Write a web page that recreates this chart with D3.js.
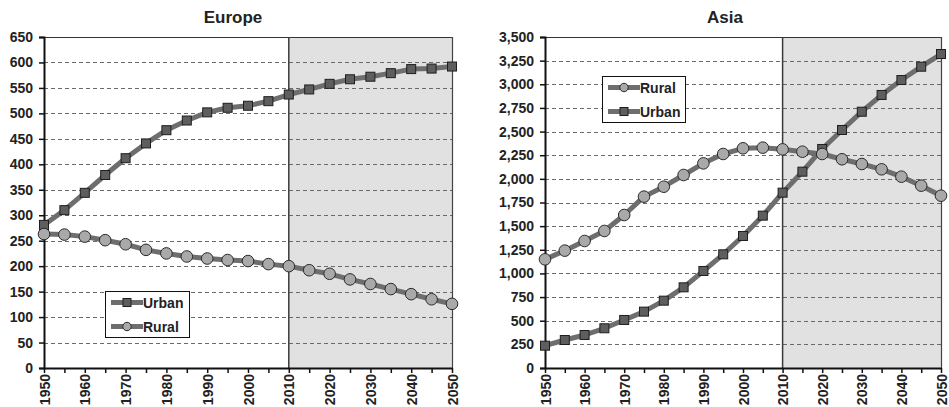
<!DOCTYPE html>
<html>
<head>
<meta charset="utf-8">
<script src="https://cdn.jsdelivr.net/npm/d3@7/dist/d3.min.js"></script>
<style>
  html, body { margin: 0; padding: 0; background: #fff; }
  svg { display: block; }
  text { font-family: "Liberation Sans", Arial, sans-serif; font-weight: bold; fill: #222; }
</style>
</head>
<body>
<svg id="chart" width="949" height="407"></svg>
<script>
const years = [1950,1955,1960,1965,1970,1975,1980,1985,1990,1995,2000,2005,2010,2015,2020,2025,2030,2035,2040,2045,2050];
const xTickLabels = [1950,1960,1970,1980,1990,2000,2010,2020,2030,2040,2050];
const europeUrban = [281,310,344,379,412,441,467,486,502,511,515,524,537,547,558,567,572,579,587,588,592];
const europeRural = [263,262,258,251,243,232,225,219,215,212,210,204,200,192,185,174,165,155,145,135,126];
const asiaRural = [1149,1241,1343,1449,1618,1812,1917,2041,2164,2263,2323,2330,2312,2287,2263,2207,2157,2101,2023,1928,1822];
const asiaUrban = [236,296,349,420,508,596,712,853,1026,1202,1396,1611,1854,2076,2316,2517,2710,2887,3045,3186,3320];
const europeTicks = d3.range(0, 651, 50);
const asiaTicks = d3.range(0, 3501, 250);
const projectionStart = 2010;

const svg = d3.select("#chart");

const panels = [
  { title: "Europe", titleX: 233, x0: 44, x1: 452, yMax: 650, ticks: europeTicks, fmt: d3.format("d"),
    series: [ {name: "Urban", values: europeUrban, marker: "square"}, {name: "Rural", values: europeRural, marker: "circle"} ],
    legend: { x: 105, y: 291, w: 84, h: 46 } },
  { title: "Asia", titleX: 725, x0: 545, x1: 941, yMax: 3500, ticks: asiaTicks, fmt: d3.format(","),
    series: [ {name: "Urban", values: asiaUrban, marker: "square"}, {name: "Rural", values: asiaRural, marker: "circle"} ],
    legendOrder: ["Rural", "Urban"],
    legend: { x: 602, y: 76, w: 83, h: 46 } }
];

const yTop = 37, yBot = 368;
const lineColor = "#6e6e6e";

function drawMarker(g, type, cx, cy) {
  if (type === "square") {
    g.append("rect").attr("x", cx - 4.5).attr("y", cy - 4.5).attr("width", 9).attr("height", 9)
      .attr("fill", "#5e5e5e").attr("stroke", "#1e1e1e").attr("stroke-width", 1);
  } else {
    g.append("circle").attr("cx", cx).attr("cy", cy).attr("r", 5.8)
      .attr("fill", "#a9a9a9").attr("stroke", "#2a2a2a").attr("stroke-width", 1);
  }
}

panels.forEach(p => {
  const x = d3.scaleLinear().domain([1950, 2050]).range([p.x0, p.x1]);
  const y = d3.scaleLinear().domain([0, p.yMax]).range([yBot, yTop]);
  const g = svg.append("g");

  // projection shading
  g.append("rect").attr("x", x(projectionStart)).attr("y", yTop)
    .attr("width", x(2050) - x(projectionStart)).attr("height", yBot - yTop)
    .attr("fill", "#e1e1e1");

  // gridlines
  g.selectAll(".grid").data(p.ticks.filter(t => t > 0 && t < p.yMax)).enter()
    .append("line").attr("x1", p.x0).attr("x2", p.x1)
    .attr("y1", d => Math.round(y(d)) + 0.5).attr("y2", d => Math.round(y(d)) + 0.5)
    .attr("stroke", "#6a6a6a").attr("stroke-width", 1).attr("stroke-dasharray", "4,3");

  // frame top & right
  g.append("line").attr("x1", p.x0).attr("x2", p.x1).attr("y1", yTop + 0.5).attr("y2", yTop + 0.5)
    .attr("stroke", "#333").attr("stroke-width", 1.2);
  g.append("line").attr("x1", p.x1 + 0.5).attr("x2", p.x1 + 0.5).attr("y1", yTop).attr("y2", yBot)
    .attr("stroke", "#444").attr("stroke-width", 1.2);
  // 2010 line
  g.append("line").attr("x1", x(projectionStart)).attr("x2", x(projectionStart)).attr("y1", yTop).attr("y2", yBot)
    .attr("stroke", "#3a3a3a").attr("stroke-width", 1.5);

  // y axis
  const yAxis = d3.axisLeft(y).tickValues(p.ticks).tickFormat(p.fmt).tickSize(5).tickPadding(6);
  const ya = g.append("g").attr("transform", `translate(${p.x0},0)`).call(yAxis);
  ya.select(".domain").attr("stroke", "#111").attr("stroke-width", 2);
  ya.selectAll(".tick line").attr("stroke", "#111").attr("stroke-width", 1.5);
  ya.selectAll(".tick text").style("font-size", "14px").style("font-family", "'Liberation Sans', Arial, sans-serif")
    .style("font-weight", "bold").attr("fill", "#222");

  // x axis
  const xAxis = d3.axisBottom(x).tickValues(years).tickSize(5).tickSizeOuter(0)
    .tickFormat(d => xTickLabels.includes(d) ? d : "");
  const xa = g.append("g").attr("transform", `translate(0,${yBot})`).call(xAxis);
  xa.select(".domain").attr("stroke", "#111").attr("stroke-width", 2);
  xa.selectAll(".tick line").attr("stroke", "#111").attr("stroke-width", 1.5);
  xa.selectAll(".tick text")
    .style("font-size", "14px").style("font-family", "'Liberation Sans', Arial, sans-serif").style("font-weight", "bold")
    .attr("fill", "#222")
    .attr("text-anchor", "end")
    .attr("transform", "rotate(-90)")
    .attr("x", -6).attr("y", 0).attr("dy", "0.36em");

  // title
  g.append("text").attr("x", p.titleX).attr("y", 23).attr("text-anchor", "middle")
    .style("font-size", "17px").text(p.title);

  // series
  const line = d3.line().x((d, i) => x(years[i])).y(d => y(d));
  p.series.forEach(s => {
    g.append("path").datum(s.values).attr("d", line).attr("fill", "none")
      .attr("stroke", lineColor).attr("stroke-width", 5).attr("stroke-linejoin", "round");
  });
  p.series.forEach(s => {
    const mg = g.append("g");
    s.values.forEach((v, i) => drawMarker(mg, s.marker, x(years[i]), y(v)));
  });

  // legend
  const L = p.legend;
  const lg = g.append("g");
  lg.append("rect").attr("x", L.x + 0.5).attr("y", L.y + 0.5).attr("width", L.w).attr("height", L.h)
    .attr("fill", "#fff").attr("stroke", "#111").attr("stroke-width", 1);
  const order = p.legendOrder || p.series.map(s => s.name);
  order.forEach((name, k) => {
    const s = p.series.find(q => q.name === name);
    const cy = L.y + 11.5 + k * 24;
    lg.append("line").attr("x1", L.x + 6).attr("x2", L.x + 38).attr("y1", cy).attr("y2", cy)
      .attr("stroke", lineColor).attr("stroke-width", 5);
    const mg = lg.append("g");
    if (s.marker === "square") {
      mg.append("rect").attr("x", L.x + 22 - 4).attr("y", cy - 4).attr("width", 8).attr("height", 8)
        .attr("fill", "#5e5e5e").attr("stroke", "#1e1e1e");
    } else {
      mg.append("circle").attr("cx", L.x + 22).attr("cy", cy).attr("r", 4.2)
        .attr("fill", "#a9a9a9").attr("stroke", "#2a2a2a");
    }
    lg.append("text").attr("x", L.x + 38).attr("y", cy).attr("dy", "0.36em")
      .style("font-size", "14px").text(name);
  });
});
</script>
</body>
</html>
